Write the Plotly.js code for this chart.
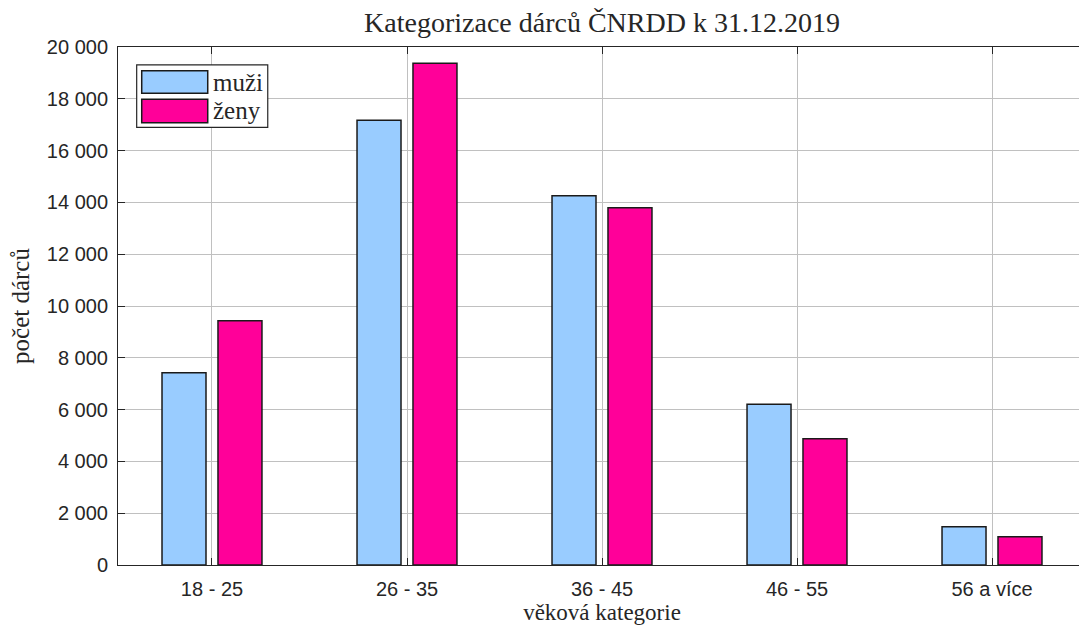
<!DOCTYPE html>
<html>
<head>
<meta charset="utf-8">
<script src="https://cdn.plot.ly/plotly-3.0.1.min.js"></script>
<style>
html,body{margin:0;padding:0;overflow:hidden;background:#fff;}
#chart{width:1100px;height:625px;}
</style>
</head>
<body>
<div id="chart"></div>
<script>
// Data
const categories = ["18 - 25", "26 - 35", "36 - 45", "46 - 55", "56 a více"];
const muzi = [7425, 17170, 14255, 6205, 1480];
const zeny = [9430, 19370, 13795, 4876, 1093];
const seriesNames = ["muži", "ženy"];
const yTicks = [0, 2000, 4000, 6000, 8000, 10000, 12000, 14000, 16000, 18000, 20000];

const xPos = categories.map((c, i) => i + 1);
const serif = "Liberation Serif, DejaVu Serif, serif";
const sans = "Liberation Sans, Arial, sans-serif";
const dark = "#262626";
const colors = ["#99ccff", "#ff0099"];

const traces = [
  {type: "bar", name: seriesNames[0], x: xPos, y: muzi,
   marker: {color: colors[0], line: {color: "#1a1a1a", width: 1.5}}},
  {type: "bar", name: seriesNames[1], x: xPos, y: zeny,
   marker: {color: colors[1], line: {color: "#1a1a1a", width: 1.5}}}
];

// custom legend (paper coords within plot area)
const legendBox = {x0: 0.0193, x1: 0.1547, y0: 0.845, y1: 0.9653};
const swatches = [
  {x0: 0.0245, x1: 0.0927, y0: 0.9106, y1: 0.9542},
  {x0: 0.0245, x1: 0.0927, y0: 0.8539, y1: 0.899}
];
const shapes = [
  {type: "rect", xref: "paper", yref: "paper", ...legendBox,
   fillcolor: "#ffffff", line: {color: dark, width: 1.2}, layer: "above"}
];
const annotations = [];
swatches.forEach((s, i) => {
  shapes.push({type: "rect", xref: "paper", yref: "paper", ...s,
    fillcolor: colors[i], line: {color: "#1a1a1a", width: 1.5}, layer: "above"});
  annotations.push({xref: "paper", yref: "paper", x: 0.0965, y: (s.y0 + s.y1) / 2,
    xanchor: "left", yanchor: "middle", showarrow: false, text: seriesNames[i],
    font: {family: serif, size: 25, color: dark}});
});

const layout = {
  width: 1100, height: 625, autosize: false,
  margin: {l: 118, r: 14, t: 47, b: 60},
  paper_bgcolor: "#ffffff", plot_bgcolor: "#ffffff",
  separators: ", ",
  barmode: "group", bargap: 0.426, bargroupgap: 0.214,
  showlegend: false,
  title: {text: "Kategorizace dárců ČNRDD k 31.12.2019",
    font: {family: serif, size: 28, color: dark},
    x: 0.5, xref: "paper", xanchor: "center", y: 0.965, yref: "container", yanchor: "middle"},
  xaxis: {
    range: [0.518, 5.482], tickvals: xPos, ticktext: categories,
    showgrid: true, gridcolor: "#c0c0c0", gridwidth: 1,
    showline: true, linecolor: dark, linewidth: 1, mirror: "ticks",
    ticks: "inside", ticklen: 7, tickcolor: dark,
    tickfont: {family: sans, size: 20, color: dark}, ticklabelstandoff: 6,
    title: {text: "věková kategorie", font: {family: serif, size: 23, color: dark}, standoff: 11},
    zeroline: false, fixedrange: true
  },
  yaxis: {
    range: [0, 20000], tickvals: yTicks, tickformat: ",d",
    showgrid: true, gridcolor: "#c0c0c0", gridwidth: 1,
    showline: true, linecolor: dark, linewidth: 1, mirror: "ticks",
    ticks: "inside", ticklen: 7, tickcolor: dark,
    tickfont: {family: sans, size: 20, color: dark}, ticklabelstandoff: 5,
    title: {text: "počet dárců", font: {family: serif, size: 25, color: dark}, standoff: 10},
    zeroline: false, fixedrange: true
  },
  shapes: shapes,
  annotations: annotations
};

Plotly.newPlot("chart", traces, layout, {displayModeBar: false, staticPlot: true});
</script>
</body>
</html>
